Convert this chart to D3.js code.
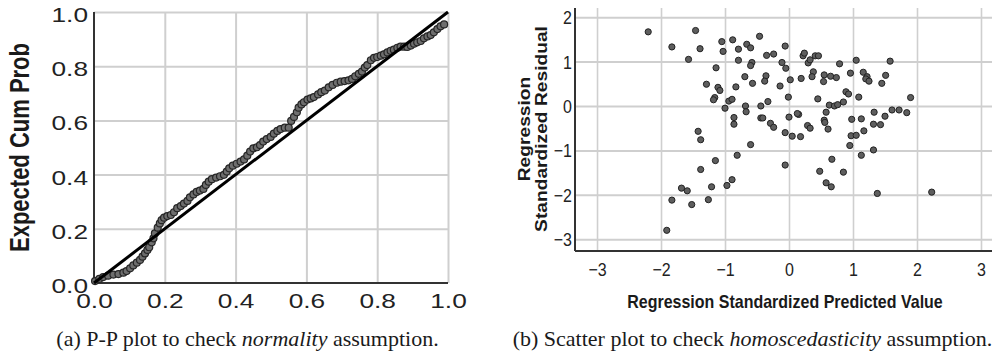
<!DOCTYPE html>
<html>
<head>
<meta charset="utf-8">
<script src="https://cdn.jsdelivr.net/npm/d3@7"></script>
<style>
  body { margin: 0; background: #fff; }
  svg { display: block; }
  .grid line { stroke: #cfcfcf; stroke-width: 2; }
  .grid .domain { display: none; }
  .ticks .domain, .ticks line { display: none; }
</style>
</head>
<body>
<svg id="fig" width="992" height="356"></svg>
<script>
// (a) P-P plot: observed cum prob (x) vs expected cum prob (y)
var ppObserved = [
  0.003, 0.015, 0.026, 0.040, 0.055, 0.069, 0.083, 0.092, 0.102, 0.111,
  0.121, 0.130, 0.137, 0.144, 0.151, 0.156, 0.163, 0.168, 0.172, 0.180,
  0.186, 0.191, 0.198, 0.207, 0.217, 0.226, 0.235, 0.245, 0.254, 0.264,
  0.271, 0.281, 0.290, 0.299, 0.309, 0.316, 0.324, 0.333, 0.345, 0.356,
  0.367, 0.375, 0.382, 0.392, 0.403, 0.414, 0.424, 0.433, 0.441, 0.450,
  0.460, 0.469, 0.478, 0.488, 0.499, 0.508, 0.518, 0.527, 0.539, 0.550,
  0.557, 0.565, 0.573, 0.578, 0.586, 0.593, 0.603, 0.612, 0.621, 0.633,
  0.642, 0.652, 0.663, 0.674, 0.686, 0.697, 0.708, 0.719, 0.729, 0.738,
  0.748, 0.757, 0.765, 0.772, 0.782, 0.791, 0.800, 0.810, 0.819, 0.829,
  0.838, 0.847, 0.857, 0.866, 0.876, 0.885, 0.895, 0.904, 0.913, 0.923,
  0.932, 0.942, 0.951, 0.960, 0.970, 0.979, 0.989
];
var ppExpected = [
  0.007, 0.015, 0.022, 0.027, 0.031, 0.033, 0.038, 0.044, 0.054, 0.065,
  0.075, 0.085, 0.097, 0.109, 0.122, 0.132, 0.150, 0.165, 0.183, 0.204,
  0.220, 0.232, 0.241, 0.247, 0.251, 0.261, 0.276, 0.284, 0.293, 0.303,
  0.316, 0.327, 0.336, 0.341, 0.347, 0.362, 0.374, 0.383, 0.389, 0.394,
  0.399, 0.411, 0.423, 0.433, 0.440, 0.448, 0.456, 0.470, 0.485, 0.497,
  0.501, 0.509, 0.522, 0.531, 0.539, 0.551, 0.561, 0.568, 0.573, 0.573,
  0.598, 0.613, 0.630, 0.647, 0.659, 0.667, 0.677, 0.681, 0.686, 0.696,
  0.704, 0.710, 0.722, 0.731, 0.739, 0.743, 0.745, 0.748, 0.753, 0.763,
  0.772, 0.780, 0.795, 0.804, 0.822, 0.831, 0.834, 0.839, 0.844, 0.851,
  0.857, 0.861, 0.868, 0.872, 0.872, 0.871, 0.876, 0.883, 0.888, 0.893,
  0.903, 0.910, 0.915, 0.925, 0.937, 0.947, 0.954
];
var ppTicks = [0, 0.2, 0.4, 0.6, 0.8, 1.0];
var ppRefLine = [0, 1];

// (b) residuals vs predicted values
var predictedValues = [
  -2.20, -1.46, -1.83, -1.39, -1.57, -1.05, -0.88, -1.03, -0.79, -0.66,
  -0.60, -0.46, -0.79, -0.58, -0.60, -0.35, -0.24, -0.11, -1.14, -0.69,
  -0.36, -0.38, -0.57, -0.14, -1.29, -1.11, -1.08, -0.83, -1.16, -1.18,
  -0.94, -0.89, -1.00, -0.68, -0.67, -0.44, -0.33, -0.44, -0.41, -0.86,
  -0.86, -0.29, -0.24, -1.42, -1.38, -0.60, -1.15, -0.81, -1.38, -1.68,
  -1.59, -1.83, -1.52, -1.21, -1.26, -0.97, -0.89, -1.91,
  -0.06, -0.05, 0.02, -0.01, 0.00, -0.06, -0.06, 0.22, 0.24, 0.30,
  0.33, 0.41, 0.46, 0.38, 0.36, 0.19, 0.55, 0.54, 0.65, 0.74,
  0.79, 1.05, 0.96, 1.16, 1.22, 1.20, 1.25, 1.45, 1.51, 1.58,
  0.89, 0.93, 1.09, 0.45, 0.63, 0.71, 0.76, 0.85, 0.58, 0.15,
  0.13, 1.90, 1.33, 1.61, 1.72, 1.84, 1.50, 0.98, 1.13, 1.32,
  1.43, 1.17, 0.55, 0.56, 0.61, 0.29, 0.33, 0.05, 0.18, 0.97,
  1.05, 0.95, 1.13, 1.32, 0.67, 0.48, 0.85, 0.58, 0.66, 1.38,
  2.23
];
var residualValues = [
  1.67, 1.70, 1.33, 1.29, 1.05, 1.45, 1.49, 1.23, 1.28, 1.39,
  1.31, 1.57, 1.03, 0.98, 0.91, 1.14, 1.17, 0.98, 0.86, 0.66,
  0.68, 0.56, 0.51, 0.45, 0.49, 0.42, 0.35, 0.43, 0.19, 0.14,
  0.11, 0.15, -0.05, 0.00, -0.13, 0.00, 0.10, -0.27, -0.27, -0.26,
  -0.41, -0.39, -0.48, -0.57, -0.76, -0.87, -1.23, -1.11, -1.43, -1.85,
  -1.91, -2.12, -2.22, -1.82, -2.11, -1.79, -1.66, -2.80,
  1.35, 0.85, 0.59, 0.20, -0.25, -0.60, -1.33, 1.13, 1.19, 0.97,
  1.04, 1.13, 1.13, 0.77, 0.66, 0.62, 0.70, 0.55, 0.67, 0.64,
  0.95, 1.03, 0.74, 0.76, 0.66, 0.61, 0.56, 0.51, 0.69, 1.01,
  0.32, 0.27, 0.20, 0.16, 0.02, 0.00, 0.03, 0.09, -0.14, -0.19,
  -0.17, 0.19, -0.14, -0.09, -0.09, -0.15, -0.23, -0.30, -0.29, -0.41,
  -0.42, -0.56, -0.32, -0.37, -0.52, -0.44, -0.50, -0.68, -0.69, -0.67,
  -0.66, -0.89, -1.11, -0.99, -1.20, -1.47, -1.49, -1.73, -1.82, -1.97,
  -1.94
];
var predTicks = [-3, -2, -1, 0, 1, 2, 3];
var residTicks = [-3, -2, -1, 0, 1, 2];

var ppYTitle = "Expected Cum Prob";
var scatterXTitle = "Regression Standardized Predicted Value";
var scatterYTitle = ["Regression", "Standardized Residual"];
var captionA = [["(a) P-P plot to check ", false], ["normality", true], [" assumption.", false]];
var captionB = [["(b) Scatter plot to check ", false], ["homoscedasticity", true], [" assumption.", false]];

var sans = "'Liberation Sans', Arial, sans-serif";
var serif = "'Liberation Serif', 'Times New Roman', serif";

var svg = d3.select("#fig");

// ---------- (a) P-P plot ----------
var ppX = d3.scaleLinear().domain([0, 1]).range([94, 448]);
var ppY = d3.scaleLinear().domain([0, 1]).range([283, 12]);
var left = svg.append("g");

left.append("g")
  .attr("class", "grid")
  .attr("transform", "translate(0," + ppY(0) + ")")
  .call(d3.axisBottom(ppX).tickValues(ppTicks.slice(1)).tickSize(-(ppY(0) - ppY(1))).tickFormat(""));
left.append("g")
  .attr("class", "grid")
  .attr("transform", "translate(" + ppX(0) + ",0)")
  .call(d3.axisLeft(ppY).tickValues(ppTicks.slice(1)).tickSize(-(ppX(1) - ppX(0))).tickFormat(""));

// axis lines
left.append("line")
  .attr("x1", ppX(0)).attr("x2", ppX(0)).attr("y1", ppY(1)).attr("y2", ppY(0))
  .attr("stroke", "#333").attr("stroke-width", 2);
left.append("line")
  .attr("x1", ppX(0)).attr("x2", ppX(1)).attr("y1", ppY(0)).attr("y2", ppY(0))
  .attr("stroke", "#333").attr("stroke-width", 2);

// tick labels (the panel is stretched horizontally)
left.append("g")
  .attr("class", "ticks")
  .attr("transform", "translate(0," + ppY(0) + ")")
  .call(d3.axisBottom(ppX).tickValues(ppTicks).tickFormat(d3.format(".1f")))
  .selectAll("text")
  .attr("y", null).attr("dy", null)
  .attr("transform", "translate(0,24.5) scale(1.25,1)")
  .attr("font-family", sans).attr("font-size", 21).attr("fill", "#222");
left.append("g")
  .attr("class", "ticks")
  .attr("transform", "translate(" + ppX(0) + ",0)")
  .call(d3.axisLeft(ppY).tickValues(ppTicks).tickFormat(d3.format(".1f")))
  .selectAll("text")
  .attr("x", null).attr("dy", null)
  .attr("transform", "translate(-6,9.5) scale(1.25,1)")
  .attr("font-family", sans).attr("font-size", 21).attr("fill", "#222");

left.append("text")
  .attr("transform", "translate(29," + ((ppY(0) + ppY(1)) / 2) + ") scale(1.25,1) rotate(-90)")
  .attr("text-anchor", "middle")
  .attr("font-family", sans).attr("font-size", 22).attr("font-weight", "bold").attr("fill", "#1a1a1a")
  .text(ppYTitle);

var ppData = ppObserved.map(function (d, i) { return { x: d, y: ppExpected[i] }; });
left.selectAll(".pp")
  .data(ppData)
  .enter().append("circle")
  .attr("class", "pp")
  .attr("cx", function (d) { return ppX(d.x); })
  .attr("cy", function (d) { return ppY(d.y); })
  .attr("r", 3.5)
  .attr("fill", "#6e6e6e")
  .attr("stroke", "#262626")
  .attr("stroke-width", 1.2);

left.append("line")
  .attr("x1", ppX(ppRefLine[0])).attr("y1", ppY(ppRefLine[0]))
  .attr("x2", ppX(ppRefLine[1])).attr("y2", ppY(ppRefLine[1]))
  .attr("stroke", "#000").attr("stroke-width", 3);

// ---------- (b) scatter ----------
var sX = d3.scaleLinear().domain([-3.344, 3.172]).range([575, 992]);
var sY = d3.scaleLinear().domain([-3.266, 2.207]).range([251, 8]);
var right = svg.append("g");

right.append("g")
  .attr("class", "grid")
  .attr("transform", "translate(0," + sY.range()[0] + ")")
  .call(d3.axisBottom(sX).tickValues(predTicks).tickSize(-(sY.range()[0] - sY.range()[1])).tickFormat(""))
  .selectAll("line").style("stroke-width", 1.6);
right.append("g")
  .attr("class", "grid")
  .attr("transform", "translate(" + sX.range()[0] + ",0)")
  .call(d3.axisLeft(sY).tickValues(residTicks).tickSize(-(sX.range()[1] - sX.range()[0])).tickFormat(""))
  .selectAll("line").style("stroke-width", 2);

right.append("line")
  .attr("x1", sX.range()[0]).attr("x2", sX.range()[0]).attr("y1", sY.range()[1]).attr("y2", sY.range()[0])
  .attr("stroke", "#333").attr("stroke-width", 2);
right.append("line")
  .attr("x1", sX.range()[0]).attr("x2", sX.range()[1]).attr("y1", sY.range()[0]).attr("y2", sY.range()[0])
  .attr("stroke", "#333").attr("stroke-width", 2);

right.append("g")
  .attr("class", "ticks")
  .attr("transform", "translate(0," + sY.range()[0] + ")")
  .call(d3.axisBottom(sX).tickValues(predTicks).tickFormat(d3.format("d")))
  .selectAll("text")
  .attr("y", null).attr("dy", null)
  .attr("transform", "translate(0,25) scale(1,1.13)")
  .attr("font-family", sans).attr("font-size", 16).attr("fill", "#222");
right.append("g")
  .attr("class", "ticks")
  .attr("transform", "translate(" + sX.range()[0] + ",0)")
  .call(d3.axisLeft(sY).tickValues(residTicks).tickFormat(d3.format("d")))
  .selectAll("text")
  .attr("x", null).attr("dy", null)
  .attr("transform", "translate(-3,6.5) scale(1,1.13)")
  .attr("font-family", sans).attr("font-size", 16).attr("fill", "#222");

right.append("text")
  .attr("transform", "translate(785,308) scale(1,1.13)")
  .attr("text-anchor", "middle")
  .attr("font-family", sans).attr("font-size", 16).attr("font-weight", "bold").attr("fill", "#1a1a1a")
  .text(scatterXTitle);

right.selectAll(".ytitle")
  .data(scatterYTitle)
  .enter().append("text")
  .attr("class", "ytitle")
  .attr("transform", function (d, i) { return "translate(" + (530 + i * 17) + ",129) scale(1,1.13) rotate(-90)"; })
  .attr("text-anchor", "middle")
  .attr("font-family", sans).attr("font-size", 17).attr("font-weight", "bold").attr("fill", "#1a1a1a")
  .text(function (d) { return d; });

var resid = predictedValues.map(function (d, i) { return { x: d, y: residualValues[i] }; });
right.selectAll(".dot")
  .data(resid)
  .enter().append("circle")
  .attr("class", "dot")
  .attr("cx", function (d) { return sX(d.x); })
  .attr("cy", function (d) { return sY(d.y); })
  .attr("r", 3.1)
  .attr("fill", "#5e5e5e")
  .attr("stroke", "#222")
  .attr("stroke-width", 1);

// ---------- captions ----------
function caption(parts, cx) {
  var t = svg.append("text")
    .attr("x", cx).attr("y", 346)
    .attr("text-anchor", "middle")
    .attr("font-family", serif).attr("font-size", 22).attr("fill", "#1a1a1a");
  parts.forEach(function (p) {
    t.append("tspan").attr("font-style", p[1] ? "italic" : null).text(p[0]);
  });
}
caption(captionA, 247.5);
caption(captionB, 752.5);
</script>
</body>
</html>
